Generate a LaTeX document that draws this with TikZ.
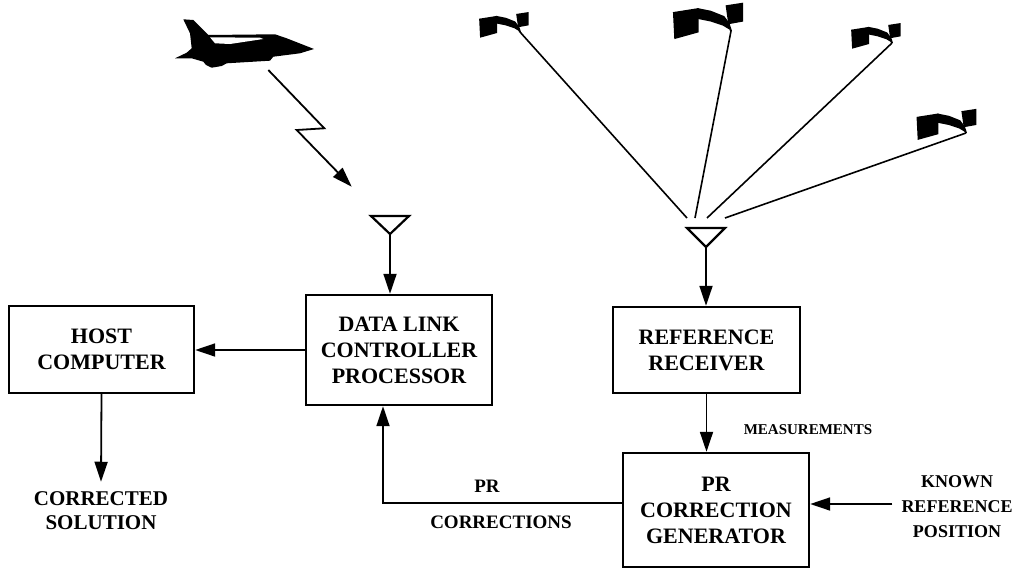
\documentclass[tikz,border=0pt]{standalone}
\usepackage{fontspec}
\setmainfont{Liberation Serif}
\usetikzlibrary{arrows.meta,calc}
\tikzset{
  block/.style={draw, line width=2.4pt, inner sep=0pt, align=center,
                font=\fontsize{22}{26}\selectfont\bfseries},
  sidenote/.style={align=center, inner sep=1pt,
                   font=\fontsize{18}{25}\selectfont\bfseries},
  arrow/.style={-{Triangle[length=20pt,width=13pt]}, line width=1.8pt},
  ray/.style={line width=1.6pt},
  aerial/.style={line width=2.2pt, line join=miter},
  satellite/.pic={
    % solar wing, bus and small dish, hooked on at the origin
    \fill (-43,-14) -- (-24,-17) -- (-24,1) -- (-42,6) -- cycle;
    \fill (-25,-17) -- (-15,-15) -- (-5,-11) -- (-2,-7) -- (-1,-1)
          -- (-6,-4) -- (-15,-7) -- (-25,-9) -- cycle;
    \fill (-4,-19) -- (9,-21) -- (9,-7) -- (-2,-5) -- cycle;
    \draw[line width=2pt] (-2,-6) -- (0,0);
    \coordinate (-tip) at (0,0);
  },
}

\begin{document}
\begin{tikzpicture}[x=1pt, y=-1pt]
\useasboundingbox (0,0) rectangle (1020,573);

% ================= blocks =================
\node[block, minimum width=185pt, minimum height=87pt] (host) at (101.5,349.5)
  {HOST\\COMPUTER};
\node[block, minimum width=186pt, minimum height=110pt] (dlcp) at (399,350)
  {DATA LINK\\CONTROLLER\\PROCESSOR};
\node[block, minimum width=187pt, minimum height=86pt] (refrx) at (706.5,350)
  {REFERENCE\\RECEIVER};
\node[block, minimum width=186pt, minimum height=114pt] (prgen) at (716,510)
  {PR\\CORRECTION\\GENERATOR};

% ================= free labels =================
\node[sidenote, font=\fontsize{21}{24}\selectfont\bfseries] (corrsol) at (101,511)
  {CORRECTED\\SOLUTION};
\node[sidenote] (known) at (957,507) {KNOWN\\REFERENCE\\POSITION};
\node[sidenote, font=\fontsize{15}{18}\selectfont\bfseries] (meas) at (808,430)
  {MEASUREMENTS};
\node[sidenote, font=\fontsize{19}{22}\selectfont\bfseries] (prtop) at (487,486) {PR};
\node[sidenote, font=\fontsize{19}{22}\selectfont\bfseries] (prbot) at (501,522)
  {CORRECTIONS};

% ================= antennas =================
\draw[aerial] (371,216) -- (409,216) -- (390,234) -- cycle;
\coordinate (dlant) at (390,234);
\draw[aerial] (687,228) -- (725,228) -- (706,247) -- cycle;
\coordinate (refant) at (706,247);

% ================= signal flow =================
\draw[arrow] (dlant) -- (dlant |- dlcp.north);
\draw[arrow] (refant) -- (refant |- refrx.north);
\draw[arrow] (dlcp.west) -- (dlcp.west -| host.east);
\draw[arrow] (host.south) -- ([yshift=9pt]corrsol.north);
\draw[arrow] (refrx.south) -- (refrx.south |- prgen.north);
\draw[arrow] ([yshift=7pt]prgen.west) -| ([xshift=-16pt]dlcp.south);
\draw[arrow] ([xshift=-8pt,yshift=3pt]known.west) -- ([yshift=3pt]known.west -| prgen.east);

% ================= aircraft and data link =================
\fill (183.3,19.3) -- (193.3,20) -- (208.3,35) -- (275,34.3) -- (286.7,38.3)
  -- (314,49) -- (300,53.3) -- (273.3,56.7) -- (270,60.7) -- (226.7,63.3)
  -- (221.7,66) -- (211.7,67.7) -- (206,65) -- (203.3,61.7) -- (191.7,58.3)
  -- (175,58.3) -- (186.7,52.7) -- (191.7,48.3) -- (190,33.3) -- cycle;
\fill[white] (210,37.3) -- (260,37.7) -- (263.3,39) -- (230,44) -- (215,43.3) -- cycle;
\coordinate (jetout) at (268.3,70);
\coordinate (zapin) at (351.7,186.7);
\draw[arrow] (jetout) -- (324.3,128.3) -- (296.7,130) -- (zapin);

% ================= GPS constellation =================
\foreach \sx/\sy/\sc/\n in {520/32/0.95/1, 731/31/1.35/2, 892/43/0.95/3, 966/133/1.15/4}
  \pic[scale=\sc] (sat\n) at (\sx,\sy) {satellite};
\foreach \n/\ex in {1/687, 2/695, 3/707, 4/725} {
  \coordinate (ray\n) at (\ex,218);
  \draw[ray] (sat\n-tip) -- (ray\n);
}
\end{tikzpicture}
\end{document}
